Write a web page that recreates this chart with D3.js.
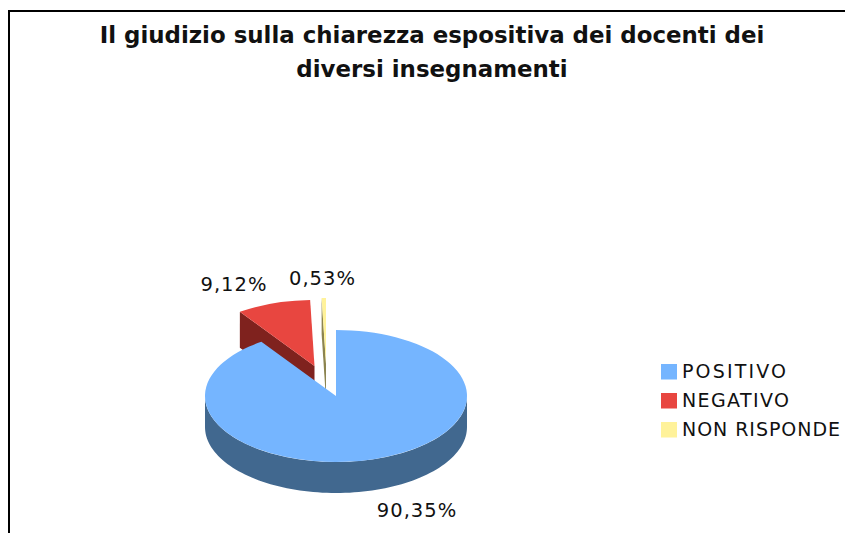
<!DOCTYPE html>
<html><head><meta charset="utf-8">
<script src="https://cdnjs.cloudflare.com/ajax/libs/d3/7.8.5/d3.min.js"></script>
<style>html,body{margin:0;padding:0;background:#fff}svg{display:block}text{font-family:"DejaVu Sans",sans-serif;fill:#111}</style>
</head><body><svg id="c" width="845" height="533"></svg>
<script>
const categories = ["POSITIVO","NEGATIVO","NON RISPONDE"];
const values = [90.35,9.12,0.53];
const labels = ["90,35%","9,12%","0,53%"];
const titleLines = ["Il giudizio sulla chiarezza espositiva dei docenti dei","diversi insegnamenti"];
const topColors = ["#75b5ff","#e84640","#fff29a"];
const sideColors = ["#41688f","#7f221e","#8c8450"];

const svg = d3.select("#c");
const rx = 131, ry = 66, depth = 31, wallDepth = 36, cx = 336, cy = 396;
const explode = [[0,0],[-21.5,-30],[-10,-32]];
const labelPos = [[417,517],[234,291],[322.5,285]];
const legendWidths = [104,107,158];

svg.append("path").attr("d","M9,533V11H845").attr("fill","none").attr("stroke","#000").attr("stroke-width",2);

svg.selectAll("text.title").data(titleLines).join("text").attr("class","title")
  .attr("x",432).attr("y",(d,i)=>43+i*33.5).attr("text-anchor","middle")
  .attr("font-size",22.9).attr("font-weight","bold").text(d=>d);

const pie = d3.pie().sort(null).value(d=>d)(values);
const arc = d3.arc().innerRadius(0).outerRadius(rx);
const pt = (a,i,dy=0)=>[cx+explode[i][0]+rx*Math.sin(a), cy+explode[i][1]-ry*Math.cos(a)+dy];
const apex = (i,dy=0)=>[cx+explode[i][0], cy+explode[i][1]+dy];
const wall = i=>{
  const a = pie[i].startAngle, p = pt(a,i), q = apex(i);
  return d3.line()([p,q,apex(i,wallDepth),pt(a,i,wallDepth)]);
};
// exploded slices behind the main slice
[1,2].forEach(i=>{
  svg.append("path").attr("d",wall(i)).attr("fill",sideColors[i]);
  svg.append("path").attr("d",arc(pie[i]))
    .attr("transform",`translate(${cx+explode[i][0]},${cy+explode[i][1]}) scale(1,${ry/rx})`)
    .attr("fill",topColors[i]);
});
// main slice side wall (front half of rim)
const rim = d3.range(90,270.5,2).map(d=>d*Math.PI/180);
svg.append("path").attr("fill",sideColors[0]).attr("d",
  d3.area().x(a=>pt(a,0)[0]).y0(a=>pt(a,0)[1]).y1(a=>pt(a,0,depth)[1])(rim));
svg.append("path").attr("d",arc(pie[0]))
  .attr("transform",`translate(${cx},${cy}) scale(1,${ry/rx})`)
  .attr("fill",topColors[0]);

svg.selectAll("text.lab").data(labels).join("text").attr("class","lab")
  .attr("x",(d,i)=>labelPos[i][0]).attr("y",(d,i)=>labelPos[i][1])
  .attr("text-anchor","middle").attr("font-size",19.5).attr("letter-spacing",1).text(d=>d);

const lg = svg.selectAll("g.lg").data(categories).join("g").attr("class","lg")
  .attr("transform",(d,i)=>`translate(661,${364+i*29})`);
lg.append("rect").attr("width",16).attr("height",15.5).attr("fill",(d,i)=>topColors[i]);
lg.append("text").attr("x",21).attr("y",14).attr("font-size",19)
  .attr("textLength",(d,i)=>legendWidths[i]).attr("lengthAdjust","spacing").text(d=>d);
</script></body></html>
